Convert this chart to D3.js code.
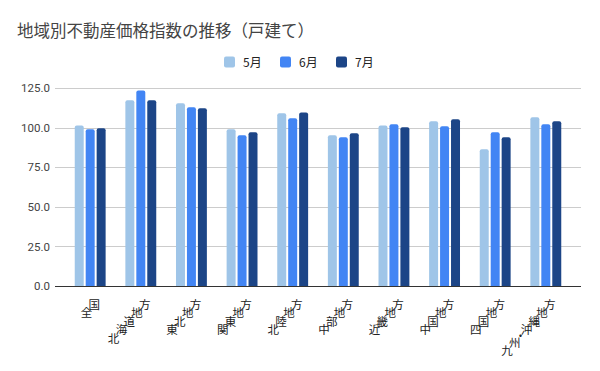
<!DOCTYPE html>
<html>
<head>
<meta charset="utf-8">
<script src="https://cdn.jsdelivr.net/npm/d3@7"></script>
<style>
  body { margin: 0; background: #fff; }
  svg { font-family: "Noto Sans CJK JP", "Noto Sans", sans-serif; }
</style>
</head>
<body>
<svg id="chart" width="600" height="371"></svg>
<script>
// data
const regions = ['全国', '北海道地方', '東北地方', '関東地方', '北陸地方', '中部地方', '近畿地方', '中国地方', '四国地方', '九州・沖縄地方'];
const months = ['5月', '6月', '7月'];
const may = [101.4, 117.2, 115.3, 98.9, 109.0, 95.1, 101.4, 104.0, 86.3, 106.5];
const june = [98.9, 123.5, 112.8, 95.1, 105.9, 93.9, 102.1, 100.8, 97.0, 102.1];
const july = [99.6, 117.2, 112.2, 97.0, 109.6, 96.4, 100.2, 105.2, 93.9, 104.0];
const yTicks = [0, 25, 50, 75, 100, 125];

const colors = ['#9fc5e8', '#4285f4', '#1c4587'];

const svg = d3.select('#chart');
const margin = {top: 88, right: 19, bottom: 85, left: 55};
const width = 600 - margin.left - margin.right;
const height = 371 - margin.top - margin.bottom;

const rows = regions.map((r, i) => ({region: r, values: [may[i], june[i], july[i]]}));

// Title
svg.append('text')
  .attr('x', 17)
  .attr('y', 37)
  .style('font-size', '16.5px')
  .style('fill', '#444')
  .text('地域別不動産価格指数の推移（戸建て）');

// Legend
const legendX = [224, 280, 336];
const legend = svg.append('g');
months.forEach((m, i) => {
  legend.append('rect')
    .attr('x', legendX[i]).attr('y', 56.5)
    .attr('width', 11).attr('height', 11)
    .attr('rx', 2)
    .attr('fill', colors[i]);
  legend.append('text')
    .attr('x', legendX[i] + 19).attr('y', 66.5)
    .style('font-size', '12px')
    .style('fill', '#222')
    .text(m);
});

const g = svg.append('g')
  .attr('transform', `translate(${margin.left},${margin.top})`);

const x0 = d3.scaleBand().domain(regions).range([0, width]).paddingInner(0.39).paddingOuter(0.39);
const x1 = d3.scaleBand().domain([0, 1, 2]).range([0, x0.bandwidth()]).paddingInner(0.18);
const y = d3.scaleLinear().domain([0, 125]).range([height, 0]);

// Grid lines
g.append('g')
  .selectAll('line')
  .data(yTicks.filter(d => d > 0))
  .join('line')
  .attr('x1', 0).attr('x2', width)
  .attr('y1', d => Math.round(y(d)) + 0.5)
  .attr('y2', d => Math.round(y(d)) + 0.5)
  .attr('stroke', '#ccc')
  .attr('stroke-width', 1);

// Y axis labels
const yAxis = g.append('g')
  .call(d3.axisLeft(y).tickValues(yTicks).tickFormat(d3.format('.1f')).tickSize(0).tickPadding(5));
yAxis.select('.domain').remove();
yAxis.selectAll('text')
  .style('font-size', '11.5px')
  .style('font-family', 'Roboto, "Noto Sans", sans-serif')
  .style('fill', '#444');

// Bars with rounded tops
const barPath = (x, yTop, w, h, r) => {
  r = Math.min(r, h);
  return `M${x},${yTop + h}V${yTop + r}Q${x},${yTop} ${x + r},${yTop}` +
    `H${x + w - r}Q${x + w},${yTop} ${x + w},${yTop + r}V${yTop + h}Z`;
};

const groups = g.append('g')
  .selectAll('g')
  .data(rows)
  .join('g')
  .attr('transform', d => `translate(${x0(d.region)},0)`);

groups.selectAll('path')
  .data(d => d.values.map((v, i) => ({i, v})))
  .join('path')
  .attr('fill', d => colors[d.i])
  .attr('d', d => barPath(x1(d.i), y(d.v), x1.bandwidth(), height - y(d.v), 2));

// Baseline
g.append('line')
  .attr('x1', 0).attr('x2', width)
  .attr('y1', height + 0.5).attr('y2', height + 0.5)
  .attr('stroke', '#333')
  .attr('stroke-width', 1);

// X labels: upright characters stepped along a diagonal
const stepX = 7.8, stepY = 8.5;
const xLabels = g.append('g');
rows.forEach(d => {
  const cx = x0(d.region) + x0.bandwidth() / 2 + 4;
  const chars = Array.from(d.region);
  const w = chars.map(c => c === '・' ? 0.5 : 1);
  // distance (in steps) of each char back from the last one
  const back = new Array(chars.length).fill(0);
  for (let k = chars.length - 2; k >= 0; k--) {
    back[k] = back[k + 1] + (w[k] + w[k + 1]) / 2;
  }
  const t = xLabels.append('text')
    .style('font-size', '11.5px')
    .style('fill', '#222')
    .attr('text-anchor', 'middle');
  chars.forEach((c, k) => {
    t.append('tspan')
      .attr('x', cx - back[k] * stepX)
      .attr('y', height + 22.5 + back[k] * stepY)
      .text(c);
  });
});
</script>
</body>
</html>
